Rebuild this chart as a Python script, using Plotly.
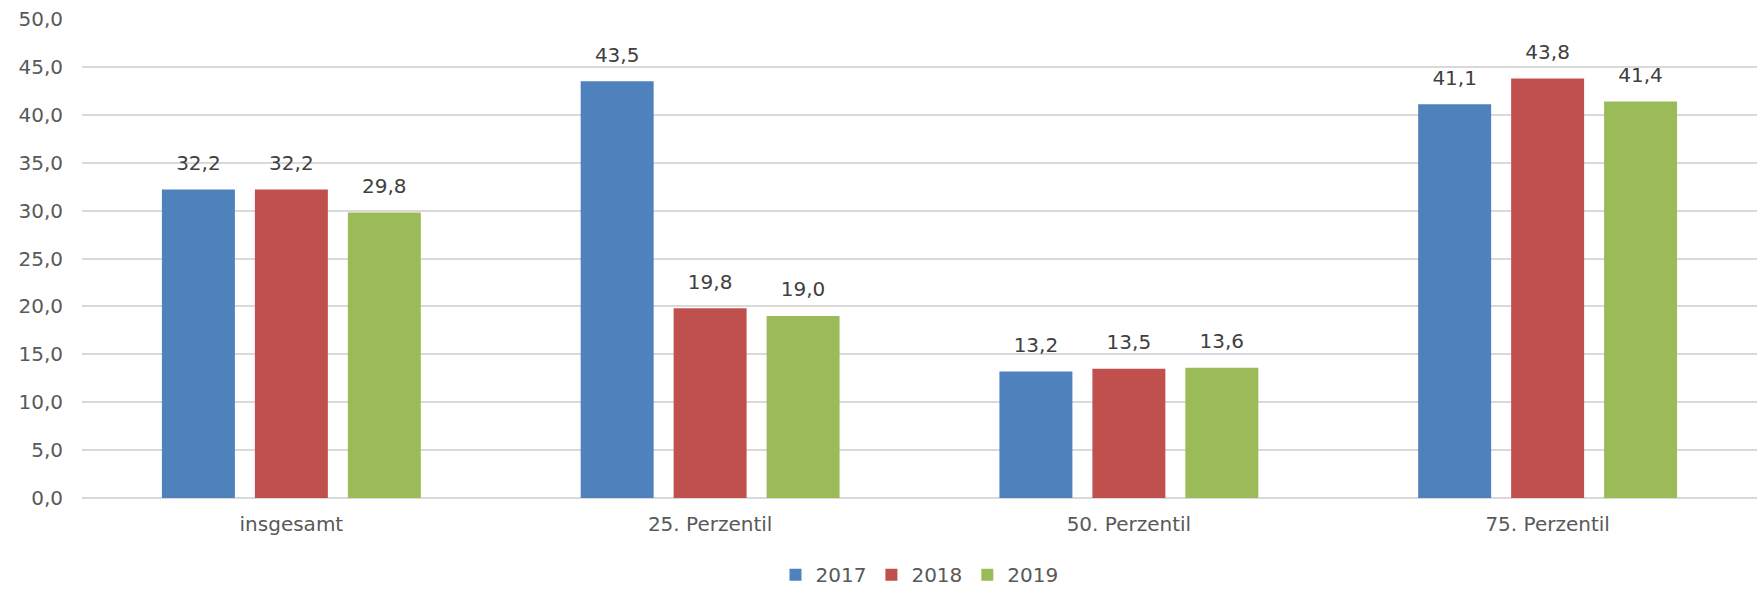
import plotly.graph_objects as go

categories = ["insgesamt", "25. Perzentil", "50. Perzentil", "75. Perzentil"]
years = ["2017", "2018", "2019"]
values_2017 = [32.2, 43.5, 13.2, 41.1]
values_2018 = [32.2, 19.8, 13.5, 43.8]
values_2019 = [29.8, 19.0, 13.6, 41.4]
colors = ["#4F81BD", "#C0504D", "#9BBB59"]

series = [values_2017, values_2018, values_2019]

fig = go.Figure()

for year, vals, color in zip(years, series, colors):
    fig.add_trace(go.Bar(
        x=categories,
        y=vals,
        name=year,
        marker_color=color,
        marker_line_width=0
    ))

# value labels as grouped text scatter, so they can sit a bit higher above the bars
for year, vals in zip(years, series):
    fig.add_trace(go.Scatter(
        x=categories,
        y=vals,
        mode="markers+text",
        marker=dict(size=22, opacity=0),
        text=[f"{v:.1f}".replace(".", ",") for v in vals],
        textposition="top center",
        textfont=dict(size=20, color="#404040"),
        showlegend=False,
        hoverinfo="skip",
        cliponaxis=False
    ))

fig.update_layout(
    width=1763,
    height=590,
    margin=dict(l=82, r=6, t=19, b=92, autoexpand=False),
    plot_bgcolor="white",
    paper_bgcolor="white",
    separators=",.",
    barmode="group",
    bargap=0.334,
    bargroupgap=0.215,
    scattermode="group",
    scattergap=0.334,
    font=dict(family="DejaVu Sans", size=20, color="#595959"),
    showlegend=True,
    legend=dict(
        orientation="h",
        x=0.5, xanchor="center",
        y=-0.16, yanchor="middle",
        font=dict(size=20, color="#595959"),
        itemwidth=30,
        traceorder="normal"
    ),
    xaxis=dict(
        showgrid=False,
        showline=False,
        ticks="",
        tickfont=dict(size=20, color="#595959"),
        ticklabelstandoff=12
    ),
    yaxis=dict(
        range=[0, 50],
        dtick=5,
        tickformat=".1f",
        showgrid=True,
        gridcolor="#D9D9D9",
        gridwidth=1.5,
        zeroline=True,
        zerolinecolor="#D9D9D9",
        zerolinewidth=1.5,
        ticks="",
        ticklabelstandoff=18,
        tickfont=dict(size=20, color="#595959")
    )
)

# drop the default 8px body margin so the figure fills the window exactly
fig.write_html(
    "out.html",
    config={"displayModeBar": False},
    post_script="document.body.style.margin='0';"
)
